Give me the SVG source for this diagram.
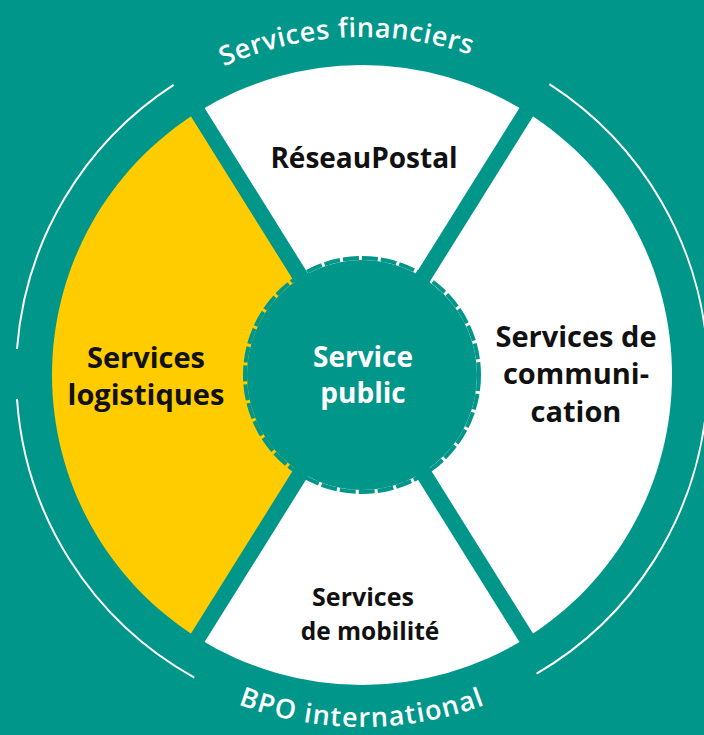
<svg xmlns="http://www.w3.org/2000/svg" width="704" height="735" viewBox="0 0 704 735">
  <defs>
    <style>
      .bg { fill: #00968A; }
      .seg-white { fill: #FFFFFF; }
      .seg-yellow { fill: #FFCC00; }
      .divider { stroke: #00968A; stroke-width: 16; stroke-linecap: butt; }
      .thin { fill: none; stroke: #FFFFFF; stroke-width: 2; }
      .lbl { font-family: "Open Sans", "Noto Sans", "Liberation Sans", sans-serif; font-weight: 700; fill: #111111; text-anchor: middle; }
      .ring { font-family: "Open Sans", "Noto Sans", "Liberation Sans", sans-serif; font-weight: 600; fill: #FFFFFF; font-size: 27px; }
      .ctr { font-family: "Open Sans", "Noto Sans", "Liberation Sans", sans-serif; font-weight: 700; fill: #FFFFFF; text-anchor: middle; font-size: 28px; }
    </style>
    <path id="topArc" d="M 24 375 A 338 338 0 0 1 700 375"/>
    <path id="botArc" d="M 10 375 A 352 352 0 0 0 714 375"/>
  </defs>

  <rect class="bg" x="0" y="0" width="704" height="735"/>

  <g id="outer-ring">
    <path class="thin" d="M 17 349 A 346 346 0 0 1 173.6 84.8"/>
    <path class="thin" d="M 194.3 677.6 A 346 346 0 0 1 17 399"/>
    <path class="thin" d="M 549.4 84.2 A 346 346 0 0 1 536.6 673.7"/>
  </g>

  <g id="services-financiers">
    <text class="ring" letter-spacing="0.6"><textPath href="#topArc" startOffset="515" text-anchor="middle">Services financiers</textPath></text>
  </g>

  <g id="bpo-international">
    <text class="ring" letter-spacing="1.2"><textPath href="#botArc" startOffset="50%" text-anchor="middle">BPO international</textPath></text>
  </g>

  <g id="reseau-postal">
    <path class="seg-white" d="M 362 375 L 197.73 112.10 A 310 310 0 0 1 526.27 112.10 Z"/>
    <text class="lbl" x="364" y="168" font-size="28">RéseauPostal</text>
  </g>

  <g id="services-communication">
    <path class="seg-white" d="M 362 375 L 526.27 112.10 A 310 310 0 0 1 526.27 637.90 Z"/>
    <text class="lbl" x="576" y="347" font-size="29">Services de</text>
    <text class="lbl" x="576" y="384" font-size="29">communi-</text>
    <text class="lbl" x="576" y="422" font-size="29">cation</text>
  </g>

  <g id="services-mobilite">
    <path class="seg-white" d="M 362 375 L 526.27 637.90 A 310 310 0 0 1 197.73 637.90 Z"/>
    <text class="lbl" x="363" y="606" font-size="25">Services</text>
    <text class="lbl" x="370" y="640" font-size="24.5">de mobilité</text>
  </g>

  <g id="services-logistiques">
    <path class="seg-yellow" d="M 362 375 L 197.73 637.90 A 310 310 0 0 1 197.73 112.10 Z"/>
    <text class="lbl" x="146" y="368" font-size="29">Services</text>
    <text class="lbl" x="146" y="405" font-size="29">logistiques</text>
  </g>

  <g id="connectors">
    <line class="divider" x1="362" y1="375" x2="187.13" y2="95.14"/>
    <line class="divider" x1="362" y1="375" x2="536.87" y2="95.14"/>
    <line class="divider" x1="362" y1="375" x2="187.13" y2="654.86"/>
    <line class="divider" x1="362" y1="375" x2="536.87" y2="654.86"/>
  </g>

  <g id="service-public">
    <circle cx="362" cy="375" r="115" fill="#00968A"/>
    <circle cx="362" cy="375" r="117" fill="none" stroke="#00968A" stroke-width="4" stroke-dasharray="16 3"/>
    <text class="ctr" x="363" y="367">Service</text>
    <text class="ctr" x="363" y="403">public</text>
  </g>
</svg>
